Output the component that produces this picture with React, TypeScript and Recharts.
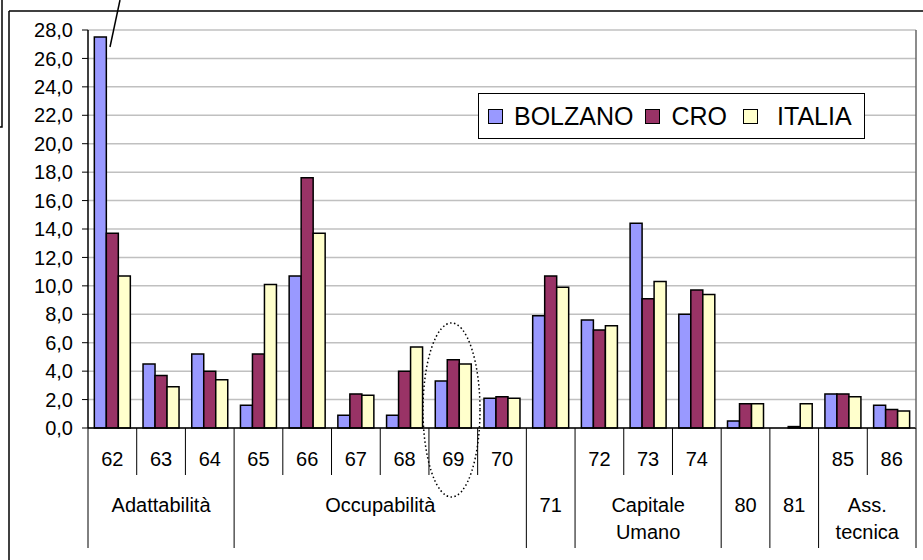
import React from "react"
import { BarChart, Bar, XAxis, YAxis, CartesianGrid } from "recharts"

const codes = ["62", "63", "64", "65", "66", "67", "68", "69", "70", "71", "72", "73", "74", "80", "81", "85", "86"]
const bolzano = [27.5, 4.5, 5.2, 1.6, 10.7, 0.9, 0.9, 3.3, 2.1, 7.9, 7.6, 14.4, 8.0, 0.5, 0, 2.4, 1.6]
const cro = [13.7, 3.7, 4.0, 5.2, 17.6, 2.4, 4.0, 4.8, 2.2, 10.7, 6.9, 9.1, 9.7, 1.7, 0.1, 2.4, 1.3]
const italia = [10.7, 2.9, 3.4, 10.1, 13.7, 2.3, 5.7, 4.5, 2.1, 9.9, 7.2, 10.3, 9.4, 1.7, 1.7, 2.2, 1.2]

const groupLabels = [["Adattabilità"], ["Occupabilità"], ["71"], ["Capitale", "Umano"], ["80"], ["81"], ["Ass.", "tecnica"]]
const groupSizes = [3, 6, 1, 3, 1, 1, 2]

const yTicks = [0, 2, 4, 6, 8, 10, 12, 14, 16, 18, 20, 22, 24, 26, 28]

const series = [
  { key: "BOLZANO", values: bolzano, color: "#9999FF" },
  { key: "CRO", values: cro, color: "#993366" },
  { key: "ITALIA", values: italia, color: "#FFFFCC" },
]

const data = codes.map((code, i) => ({
  code,
  BOLZANO: bolzano[i],
  CRO: cro[i],
  ITALIA: italia[i],
}))

// layout
const W = 923
const H = 560
const LEFT = 88
const RIGHT = 7
const TOP = 30
const X_AXIS_H = 132
const PLOT_BOTTOM = H - X_AXIS_H
const BAND = (W - LEFT - RIGHT) / codes.length
const FONT = "'Liberation Sans', Arial, sans-serif"

// which group each category belongs to
const groupOf: number[] = []
const groupStart: number[] = []
{
  let idx = 0
  groupSizes.forEach((size, g) => {
    groupStart.push(idx)
    for (let k = 0; k < size; k++) groupOf.push(g)
    idx += size
  })
}

const CategoryTick = (props: any) => {
  const { x, payload } = props
  const i = payload.index
  const g = groupOf[i]
  const left = x - BAND / 2
  const isStart = groupStart[g] === i
  const size = groupSizes[g]
  const y0 = PLOT_BOTTOM
  return (
    <g>
      <line x1={left} x2={left} y1={y0} y2={isStart ? 548 : 475} stroke="#000" strokeWidth={1} />
      {i === codes.length - 1 && (
        <line x1={left + BAND} x2={left + BAND} y1={y0} y2={548} stroke="#000" strokeWidth={1} />
      )}
      {size > 1 && (
        <text x={x} y={466} textAnchor="middle" fontSize={20} fontFamily={FONT} fill="#000">
          {payload.value}
        </text>
      )}
      {isStart &&
        groupLabels[g].map((line, k) => (
          <text
            key={k}
            x={left + (size * BAND) / 2}
            y={512 + k * 27}
            textAnchor="middle"
            fontSize={20}
            fontFamily={FONT}
            fill="#000"
          >
            {line}
          </text>
        ))}
    </g>
  )
}

const LegendBox = () => (
  <div
    style={{
      position: "absolute",
      left: 478,
      top: 93,
      width: 387,
      height: 46,
      border: "1px solid #000",
      background: "#fff",
      display: "flex",
      alignItems: "center",
      fontFamily: FONT,
      fontSize: 25,
      color: "#000",
      boxSizing: "border-box",
      paddingLeft: 9,
      whiteSpace: "nowrap",
    }}
  >
    {series.map((s, i) => (
      <div key={s.key} style={{ display: "flex", alignItems: "center", marginRight: i === 1 ? 16 : 12 }}>
        <span
          style={{
            display: "inline-block",
            width: 15,
            height: 15,
            background: s.color,
            border: "1px solid #000",
            boxSizing: "border-box",
            marginRight: i === 2 ? 19 : 11,
          }}
        />
        <span>{s.key}</span>
      </div>
    ))}
  </div>
)

export default function App() {
  return (
    <div style={{ position: "absolute", left: 0, top: 0, width: W, height: H, background: "#fff" }}>
      <BarChart
        width={W}
        height={H}
        data={data}
        margin={{ top: TOP, right: RIGHT, bottom: 0, left: 0 }}
        barCategoryGap="13%"
        barGap={0}
      >
        <CartesianGrid vertical={false} stroke="#c0c0c0" strokeWidth={1.5} />
        <XAxis
          dataKey="code"
          interval={0}
          height={X_AXIS_H}
          tickLine={false}
          axisLine={{ stroke: "#000", strokeWidth: 1.5 }}
          tick={<CategoryTick />}
        />
        <YAxis
          width={LEFT}
          domain={[0, 28]}
          ticks={yTicks}
          interval={0}
          tickFormatter={(v: number) => v.toFixed(1).replace(".", ",")}
          tick={{ fontSize: 20, fontFamily: FONT, fill: "#000" }}
          tickSize={6}
          tickMargin={9}
          tickLine={{ stroke: "#000" }}
          axisLine={{ stroke: "#000", strokeWidth: 1.5 }}
        />
        {series.map((s) => (
          <Bar
            key={s.key}
            dataKey={s.key}
            fill={s.color}
            stroke="#000"
            strokeWidth={1.5}
            isAnimationActive={false}
          />
        ))}
      </BarChart>
      <svg
        width={W}
        height={H}
        style={{ position: "absolute", left: 0, top: 0, pointerEvents: "none" }}
      >
        <line x1={9} y1={11} x2={W} y2={11} stroke="#000" strokeWidth={1.5} />
        <line x1={9} y1={11} x2={9} y2={H} stroke="#000" strokeWidth={1.5} />
        <polyline points="0,127 2,127 2,0" fill="none" stroke="#000" strokeWidth={1.5} />
        <line x1={120} y1={0} x2={110} y2={47} stroke="#000" strokeWidth={1.5} />
        <line x1={W - RIGHT} y1={TOP} x2={W - RIGHT} y2={PLOT_BOTTOM} stroke="#666" strokeWidth={1.5} />
        <ellipse cx={451.5} cy={410} rx={28.5} ry={87} fill="none" stroke="#000" strokeWidth={1.5} strokeDasharray="1.5 2.5" />
      </svg>
      <LegendBox />
    </div>
  )
}
